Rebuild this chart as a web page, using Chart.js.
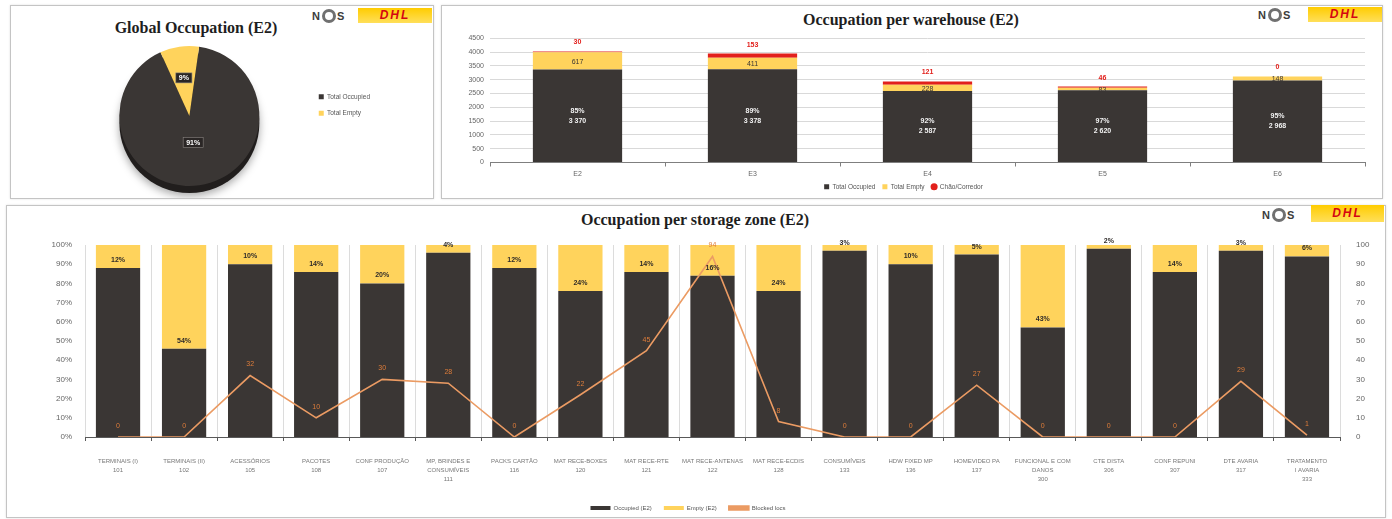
<!DOCTYPE html>
<html>
<head>
<meta charset="utf-8">
<script src="https://cdn.jsdelivr.net/npm/chart.js@4.4.1/dist/chart.umd.min.js"></script>
<style>
  body { margin: 0; background: #fff; width: 1392px; height: 519px; position: relative; overflow: hidden; font-family: "Liberation Sans", Arial, sans-serif; }
  .panel { position: absolute; border: 1px solid #c4c4c4; box-shadow: 0 0 2px rgba(0,0,0,0.12); background: #fff; }
  .title { position: absolute; font-family: "Liberation Serif", "Times New Roman", serif; font-weight: bold; font-size: 16px; line-height: 20px; color: #1e1e1e; white-space: nowrap; transform: translateX(-50%); }
  .nos { position: absolute; font: bold 11px "Liberation Sans", sans-serif; color: #3c3c3c; line-height: 14px; letter-spacing: 1px; }
  .nos i { display: inline-block; width: 8px; height: 8px; border: 3px solid #707070; border-radius: 50%; vertical-align: -3px; margin: 0 1px; }
  .dhl { position: absolute; background: linear-gradient(#ffcc00, #ffdf5a); color: #d40511; font: italic bold 12px "Liberation Sans", sans-serif; text-align: center; letter-spacing: 2px; }
  canvas { position: absolute; }
</style>
</head>
<body>
<div class="panel" style="left:10px;top:5px;width:422px;height:192px;"></div>
<div class="panel" style="left:441px;top:5px;width:940px;height:192px;"></div>
<div class="panel" style="left:6px;top:205px;width:1378px;height:311px;"></div>

<div class="title" style="left:196px;top:18px;">Global Occupation (E2)</div>
<div class="title" style="left:911px;top:10px;">Occupation per warehouse (E2)</div>
<div class="title" style="left:695px;top:210px;">Occupation per storage zone (E2)</div>

<div class="nos" style="left:312px;top:9px;">N<i></i>S</div>
<div class="dhl" style="left:358px;top:8px;width:74px;height:15px;line-height:15px;">DHL</div>
<div class="nos" style="left:1258px;top:8px;">N<i></i>S</div>
<div class="dhl" style="left:1308px;top:7px;width:74px;height:15px;line-height:15px;">DHL</div>
<div class="nos" style="left:1262px;top:208px;">N<i></i>S</div>
<div class="dhl" style="left:1311px;top:205px;width:73px;height:17px;line-height:17px;">DHL</div>

<canvas id="pieChart" width="423" height="168" style="left:10px;top:30px;"></canvas>
<canvas id="whChart" width="940" height="172" style="left:442px;top:28px;"></canvas>
<canvas id="zoneChart" width="1378" height="293" style="left:6px;top:228px;"></canvas>

<script>
const globalLabels = ['Total Occupied', 'Total Empty'];
const globalShare = [91, 9];

const warehouses = ['E2', 'E3', 'E4', 'E5', 'E6'];
const whOccupied = [3370, 3378, 2587, 2620, 2968];
const whEmpty = [617, 411, 228, 83, 148];
const whFloor = [30, 153, 121, 46, 0];

const zones = [
  ['TERMINAIS (I)', '101'],
  ['TERMINAIS (II)', '102'],
  ['ACESSÓRIOS', '105'],
  ['PACOTES', '108'],
  ['CONF PRODUÇÃO', '107'],
  ['MP, BRINDES E', 'CONSUMÍVEIS', '111'],
  ['PACKS CARTÃO', '116'],
  ['MAT RECE-BOXES', '120'],
  ['MAT RECE-RTE', '121'],
  ['MAT RECE-ANTENAS', '122'],
  ['MAT RECE-ECDIS', '128'],
  ['CONSUMÍVEIS', '133'],
  ['HDW FIXED MP', '136'],
  ['HOMEVIDEO PA', '137'],
  ['FUNCIONAL E COM', 'DANOS', '300'],
  ['CTE DISTA', '306'],
  ['CONF REPUNI', '307'],
  ['DTE AVARIA', '317'],
  ['TRATAMENTO', 'I AVARIA', '333']
];
const zoneOccupied = [88, 46, 90, 86, 80, 96, 88, 76, 86, 84, 76, 97, 90, 95, 57, 98, 86, 97, 94];
const zoneEmpty = [12, 54, 10, 14, 20, 4, 12, 24, 14, 16, 24, 3, 10, 5, 43, 2, 14, 3, 6];
const zoneBlocked = [0, 0, 32, 10, 30, 28, 0, 22, 45, 94, 8, 0, 0, 27, 0, 0, 0, 29, 1];

const DARK = '#3a3634';
const YELLOW = '#ffd35c';
const RED = '#e2201c';
const ORANGE = '#eb9b63';

Chart.defaults.font.family = '"Liberation Sans", Arial, sans-serif';
Chart.defaults.animation = false;

function fmt(v) {
  return String(v).replace(/\B(?=(\d{3})+(?!\d))/g, ' ');
}

// ---------- pie ----------
const pieExtras = {
  id: 'pieExtras',
  afterLayout(chart) {
    // legend sits a bit above the pie centre in the original
    chart.legend.top -= 11;
    chart.legend.bottom -= 11;
  },
  beforeDatasetsDraw(chart) {
    const arc = chart.getDatasetMeta(0).data[0];
    const ctx = chart.ctx;
    ctx.save();
    ctx.shadowColor = 'rgba(0,0,0,0.35)';
    ctx.shadowBlur = 8;
    ctx.shadowOffsetY = 3;
    ctx.fillStyle = '#211e1d';
    ctx.beginPath();
    ctx.arc(arc.x, arc.y + 7, arc.outerRadius, 0, Math.PI * 2);
    ctx.fill();
    ctx.restore();
  },
  afterDatasetsDraw(chart) {
    const ctx = chart.ctx;
    const fracs = [0.38, 0.55];
    ctx.save();
    ctx.font = 'bold 7px "Liberation Sans"';
    ctx.textAlign = 'center';
    ctx.textBaseline = 'middle';
    chart.getDatasetMeta(0).data.forEach((arc, i) => {
      const mid = (arc.startAngle + arc.endAngle) / 2;
      const d = arc.outerRadius * fracs[i];
      const x = arc.x + Math.cos(mid) * d;
      const y = arc.y + Math.sin(mid) * d;
      const txt = globalShare[i] + '%';
      const w = ctx.measureText(txt).width + 6;
      ctx.fillStyle = '#2a2625';
      ctx.fillRect(x - w / 2, y - 5, w, 10);
      ctx.strokeStyle = '#8a8682';
      ctx.lineWidth = 0.6;
      ctx.strokeRect(x - w / 2, y - 5, w, 10);
      ctx.fillStyle = '#ffffff';
      ctx.fillText(txt, x, y + 0.5);
    });
    ctx.restore();
  }
};

new Chart(document.getElementById('pieChart'), {
  type: 'pie',
  data: {
    labels: globalLabels,
    datasets: [{ data: globalShare, backgroundColor: [DARK, YELLOW], borderWidth: 0 }]
  },
  options: {
    responsive: false,
    rotation: 8,
    layout: { padding: { top: 16, bottom: 12, left: 60, right: 53 } },
    plugins: {
      legend: {
        position: 'right',
        labels: { boxWidth: 5, boxHeight: 5, font: { size: 6.5 }, color: '#555', padding: 10 }
      },
      tooltip: { enabled: false }
    }
  },
  plugins: [pieExtras]
});

// ---------- warehouses ----------
const whLabels = {
  id: 'whLabels',
  afterDatasetsDraw(chart) {
    const ctx = chart.ctx;
    ctx.save();
    ctx.textAlign = 'center';
    ctx.textBaseline = 'middle';
    chart.getDatasetMeta(0).data.forEach((bar, i) => {
      const mid = (bar.y + bar.base) / 2;
      const pct = Math.round(whOccupied[i] / (whOccupied[i] + whEmpty[i]) * 100) + '%';
      ctx.font = 'bold 7px "Liberation Sans"';
      ctx.fillStyle = '#f2f2f2';
      ctx.fillText(pct, bar.x, mid - 5);
      ctx.fillText(fmt(whOccupied[i]), bar.x, mid + 5);
    });
    chart.getDatasetMeta(1).data.forEach((bar, i) => {
      ctx.font = '7px "Liberation Sans"';
      ctx.fillStyle = '#3a3634';
      ctx.fillText(fmt(whEmpty[i]), bar.x, (bar.y + bar.base) / 2 + 1);
    });
    chart.getDatasetMeta(2).data.forEach((bar, i) => {
      ctx.font = 'bold 7px "Liberation Sans"';
      ctx.fillStyle = RED;
      ctx.fillText(fmt(whFloor[i]), bar.x, bar.y - 9);
    });
    ctx.restore();
  }
};

new Chart(document.getElementById('whChart'), {
  type: 'bar',
  data: {
    labels: warehouses,
    datasets: [
      { label: 'Total Occupied', data: whOccupied, backgroundColor: DARK, pointStyle: 'rect' },
      { label: 'Total Empty', data: whEmpty, backgroundColor: YELLOW, pointStyle: 'rect' },
      { label: 'Chão/Corredor', data: whFloor, backgroundColor: RED, pointStyle: 'circle' }
    ]
  },
  options: {
    responsive: false,
    layout: { padding: { top: 9, right: 17, left: 0, bottom: 0 } },
    datasets: { bar: { barPercentage: 0.51, categoryPercentage: 1 } },
    scales: {
      x: {
        stacked: true,
        grid: { drawOnChartArea: false, tickLength: 4, color: '#7f7f7f', offset: true },
        border: { color: '#7f7f7f' },
        ticks: { font: { size: 7 }, color: '#666', padding: 3 },
        afterFit(s) { s.height = 14; }
      },
      y: {
        stacked: true, min: 0, max: 4500,
        ticks: { stepSize: 500, callback: v => String(v), font: { size: 7 }, color: '#666', padding: 6 },
        grid: { color: '#d9d9d9', drawTicks: false },
        border: { display: false },
        afterFit(s) { s.width = 48; }
      }
    },
    plugins: {
      legend: {
        position: 'bottom',
        labels: { usePointStyle: true, boxWidth: 5, boxHeight: 5, font: { size: 6.5 }, color: '#555', padding: 7 }
      },
      tooltip: { enabled: false }
    }
  },
  plugins: [whLabels]
});

// ---------- storage zones ----------
const zoneLabels = {
  id: 'zoneLabels',
  afterDatasetsDraw(chart) {
    const ctx = chart.ctx;
    ctx.save();
    ctx.textAlign = 'center';
    ctx.textBaseline = 'middle';
    ctx.font = 'bold 7px "Liberation Sans"';
    ctx.fillStyle = '#2f2b29';
    chart.getDatasetMeta(1).data.forEach((bar, i) => {
      ctx.fillText(zoneEmpty[i] + '%', bar.x, bar.base - 8);
    });
    ctx.font = '7px "Liberation Sans"';
    ctx.fillStyle = '#df7d3a';
    chart.getDatasetMeta(2).data.forEach((pt, i) => {
      ctx.fillText(String(zoneBlocked[i]), pt.x, pt.y - 11);
    });
    ctx.restore();
  }
};

new Chart(document.getElementById('zoneChart'), {
  data: {
    labels: zones,
    datasets: [
      { type: 'bar', label: 'Occupied (E2)', data: zoneOccupied, backgroundColor: DARK, yAxisID: 'y', order: 1 },
      { type: 'bar', label: 'Empty (E2)', data: zoneEmpty, backgroundColor: YELLOW, yAxisID: 'y', order: 1 },
      { type: 'line', label: 'Blocked locs', data: zoneBlocked, borderColor: ORANGE, backgroundColor: ORANGE,
        borderWidth: 1.6, pointRadius: 0, tension: 0, yAxisID: 'y2', order: 0 }
    ]
  },
  options: {
    responsive: false,
    layout: { padding: { top: 17, right: 14, left: 0, bottom: 0 } },
    datasets: { bar: { barPercentage: 0.67, categoryPercentage: 1 } },
    scales: {
      x: {
        stacked: true,
        grid: { color: '#dcdcdc', tickColor: '#595959', tickLength: 4, offset: true },
        border: { color: '#595959' },
        ticks: { font: { size: 6, lineHeight: 1.5 }, color: '#777', padding: 16, maxRotation: 0, autoSkip: false },
        afterFit(s) { s.height = 56; }
      },
      y: {
        stacked: true, min: 0, max: 100,
        ticks: { stepSize: 10, callback: v => v + '%', font: { size: 8 }, color: '#666', padding: 5 },
        grid: { display: false },
        border: { display: false },
        afterFit(s) { s.width = 79; }
      },
      y2: {
        position: 'right', min: 0, max: 100,
        ticks: { stepSize: 10, font: { size: 8 }, color: '#666', padding: 8 },
        grid: { display: false },
        border: { display: false },
        afterFit(s) { s.width = 30; }
      }
    },
    plugins: {
      legend: {
        position: 'bottom',
        labels: { boxWidth: 20, boxHeight: 4, font: { size: 6 }, color: '#555', padding: 12,
          sort: (a, b) => a.datasetIndex - b.datasetIndex }
      },
      tooltip: { enabled: false }
    }
  },
  plugins: [zoneLabels]
});
</script>
</body>
</html>
